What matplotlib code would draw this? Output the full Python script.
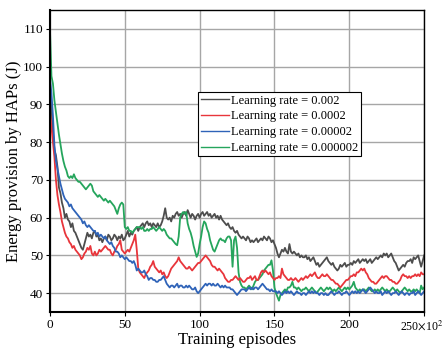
import numpy as np
import matplotlib
matplotlib.use('Agg')
import matplotlib.pyplot as plt
import matplotlib.transforms as mtransforms

plt.rcParams['font.family'] = ['Liberation Serif', 'DejaVu Serif']
plt.rcParams['mathtext.fontset'] = 'stix'

# Training episodes (x100), one reading per 100 episodes
episodes = np.arange(0, 251)

energy_lr_2e3 = [
    95.0, 88.0, 82.5, 78.0, 76.5, 73.5, 68.0, 66.5, 64.0, 62.5,
    60.0, 61.0, 59.5, 59.0, 57.5, 58.5, 56.5, 56.0, 55.0, 54.0,
    53.0, 52.0, 51.5, 53.0, 54.5, 56.0, 55.0, 55.5, 54.5, 56.0,
    56.5, 55.0, 55.5, 54.0, 54.5, 53.5, 54.5, 55.0, 54.0, 55.5,
    55.0, 54.0, 54.5, 55.5, 55.0, 54.0, 55.0, 54.5, 55.5, 54.0,
    54.5, 55.5, 56.5, 55.0, 56.0, 55.5, 56.5, 57.0, 57.5, 56.5,
    57.5, 58.0, 58.5, 57.5, 58.5, 59.0, 58.0, 58.5, 57.5, 58.5,
    58.0, 57.5, 58.5, 57.5, 58.0, 59.0, 60.5, 62.5, 60.0, 59.5,
    60.0, 59.0, 60.5, 60.0, 61.0, 61.5, 60.5, 61.0, 60.0, 61.0,
    61.5, 60.5, 62.0, 61.0, 60.0, 61.0, 60.5, 59.5, 60.5, 61.0,
    60.0, 61.0, 61.5, 60.5, 61.0, 61.5, 60.5, 61.0, 60.0, 60.5,
    61.0, 60.0, 60.5, 59.5, 60.5, 59.5, 59.0, 58.5, 58.0, 58.5,
    57.5, 57.0, 57.5, 56.5, 56.0, 56.5, 55.5, 55.0, 54.5, 55.0,
    54.5, 54.0, 55.0, 54.5, 53.5, 54.0, 53.5, 54.0, 54.5, 53.5,
    54.0, 54.5, 54.0, 55.0, 54.5, 54.0, 55.0, 54.5, 53.5, 54.0,
    53.0, 52.0, 50.5, 49.5, 50.5, 51.5, 51.0, 52.0, 51.0, 50.5,
    53.0, 51.0, 50.5, 51.0, 50.5, 50.0, 50.5, 49.5, 50.0, 49.5,
    49.5, 50.0, 49.0, 49.5, 48.5, 49.0, 49.5, 48.5, 47.5, 48.0,
    47.0, 47.5, 48.0, 48.5, 49.0, 49.5, 48.5, 48.0, 47.5, 48.0,
    47.0, 46.5, 46.0, 46.5, 47.5, 47.0, 47.5, 48.0, 47.0, 47.5,
    47.5, 48.0, 47.5, 48.5, 48.0, 48.5, 49.0, 48.0, 48.5, 49.0,
    48.5, 49.0, 48.0, 48.5, 49.0, 48.0, 48.5, 49.0, 49.5, 49.0,
    49.5, 50.0, 49.5, 50.5, 50.0, 50.5, 49.5, 50.0, 50.5, 49.5,
    48.5, 48.0, 47.0, 46.0, 46.5, 47.0, 47.5, 47.0, 48.0, 48.5,
    48.5, 49.0, 48.0, 49.5, 49.0, 49.5, 50.0, 48.5, 47.0, 48.5,
    50.0,
]

energy_lr_2e4 = [
    88.0, 84.0, 80.0, 76.0, 70.0, 66.0, 63.5, 61.5, 59.0, 57.5,
    56.0, 55.0, 54.5, 53.5, 53.0, 52.0, 52.5, 51.5, 51.0, 50.5,
    50.0, 49.0, 49.5, 50.5, 51.0, 52.0, 51.5, 52.5, 50.5, 50.0,
    51.0, 50.0, 50.5, 51.5, 51.0, 51.5, 52.0, 52.5, 52.0, 51.5,
    51.5, 50.5, 50.0, 51.0, 51.5, 52.5, 53.0, 54.0, 51.5, 51.0,
    50.5, 51.0, 51.5, 51.0, 52.0, 53.0, 54.0, 55.5, 51.5, 46.5,
    45.5, 45.0, 44.5, 44.0, 45.0, 45.5, 46.0, 47.0, 47.5, 48.5,
    47.0, 46.5, 46.0, 45.5, 46.0, 45.0, 45.5, 44.5, 44.0, 44.5,
    45.5, 46.5, 47.0, 47.5, 48.0, 48.5, 49.5, 48.5, 48.0, 47.5,
    47.0, 46.5, 46.5, 47.0, 46.5, 46.0, 46.5, 47.0, 47.5, 48.0,
    48.0, 48.5, 49.0, 49.5, 50.0, 49.5, 49.0, 48.5, 47.5, 47.0,
    47.0, 46.5, 46.0, 46.5, 46.0, 45.5, 45.0, 44.0, 43.5, 43.0,
    43.0, 43.5, 43.5, 44.0, 44.5, 44.0, 43.5, 44.0, 43.5, 43.0,
    43.0, 43.5, 44.0, 44.0, 44.5, 43.5, 44.0, 44.5, 43.5, 43.5,
    44.5, 45.5, 46.0, 45.5, 46.0, 45.5, 45.0, 45.5, 44.5, 44.0,
    43.5, 44.0, 44.0, 44.5, 44.0, 46.5, 45.0, 44.5, 44.0, 43.5,
    43.5, 44.0, 43.5, 43.5, 44.0, 43.5, 43.0, 43.5, 44.0, 43.5,
    44.0, 44.5, 44.0, 44.5, 45.0, 44.5, 45.0, 45.5, 44.5, 44.0,
    44.0, 44.5, 45.0, 44.5, 44.5, 45.0, 44.5, 44.0, 43.5, 43.5,
    43.0, 42.5, 42.5, 42.0, 41.5, 42.0, 42.5, 43.0, 43.5, 43.5,
    44.0, 44.5, 44.5, 45.0, 44.5, 45.5, 45.5, 46.0, 46.5, 46.0,
    46.5, 45.5, 45.0, 44.0, 43.5, 43.0, 43.0, 42.5, 42.5, 43.0,
    43.5, 44.0, 44.5, 44.0, 44.5, 44.5, 44.0, 43.5, 43.5, 43.0,
    43.0, 42.5, 42.5, 43.0, 43.5, 44.5, 45.0, 44.5, 44.5, 44.0,
    44.5, 44.0, 44.5, 44.5, 45.0, 44.5, 45.0, 44.5, 45.5, 45.0,
    45.0,
]

energy_lr_2e5 = [
    97.0, 93.0, 87.0, 79.0, 75.0, 73.0, 71.0, 69.0, 67.5, 66.0,
    65.0, 64.5, 64.0, 63.0, 63.5, 62.5, 62.0, 61.5, 61.0, 60.5,
    60.0, 59.5, 58.5, 59.0, 58.0, 57.5, 58.0, 57.5, 57.0, 56.5,
    56.5, 55.5, 56.0, 55.0, 55.5, 55.0, 54.5, 55.0, 54.0, 53.5,
    53.0, 53.5, 52.5, 52.0, 51.0, 51.0, 50.5, 49.5, 50.0, 49.5,
    49.0, 49.5, 49.0, 48.5, 48.5, 48.0, 48.5, 47.5, 46.0, 46.5,
    46.0, 45.5, 45.5, 46.0, 45.0, 44.5, 43.5, 44.0, 44.0, 43.5,
    43.5, 43.0, 43.0, 43.5, 43.5, 44.0, 44.5, 43.5, 42.5, 42.0,
    41.5, 42.0, 42.0, 41.5, 42.0, 42.5, 41.5, 42.0, 42.0, 41.5,
    41.5, 42.0, 41.5, 42.0, 41.5, 41.0, 41.0, 41.5, 40.5, 40.0,
    40.5, 41.0, 41.5, 42.0, 42.5, 42.0, 42.5, 42.5, 42.0, 42.5,
    42.0, 42.0, 42.5, 42.0, 41.5, 42.0, 41.5, 42.0, 41.5, 41.5,
    41.5, 41.0, 41.0, 40.5, 40.0, 39.5, 40.0, 40.5, 41.0, 41.0,
    41.0, 40.5, 41.0, 41.5, 41.0, 41.5, 41.0, 41.5, 41.5, 41.0,
    41.5, 42.0, 42.5, 42.0, 41.5, 41.0, 41.0, 40.5, 41.0, 40.5,
    40.5, 40.5, 40.0, 40.5, 40.0, 39.5, 40.0, 40.5, 40.0, 40.5,
    40.0, 40.5, 40.0, 39.5, 40.0, 40.5, 40.0, 40.0, 39.5, 40.0,
    40.0, 39.5, 40.0, 40.5, 40.0, 40.5, 40.0, 40.5, 40.0, 40.0,
    39.5, 40.0, 40.0, 39.5, 40.0, 39.5, 39.5, 40.0, 40.5, 40.0,
    39.5, 40.0, 40.0, 40.5, 40.0, 39.5, 40.0, 40.0, 40.5, 40.0,
    39.5, 40.0, 40.5, 40.0, 40.5, 40.0, 40.5, 40.0, 40.5, 41.0,
    40.5, 40.0, 40.5, 41.0, 41.5, 41.0, 40.5, 40.0, 40.5, 40.0,
    40.0, 40.5, 39.5, 40.0, 40.5, 40.0, 40.5, 40.0, 39.5, 40.0,
    40.0, 40.5, 40.0, 39.5, 40.0, 40.5, 40.0, 39.5, 40.0, 40.0,
    39.5, 40.0, 40.0, 40.5, 39.5, 40.0, 40.5, 40.0, 39.5, 40.0,
    40.5,
]

energy_lr_2e6 = [
    110.0, 97.5, 95.5, 91.0, 88.0, 85.0, 82.0, 79.5, 77.0, 75.0,
    73.5, 72.5, 71.0, 70.5, 71.0, 70.5, 71.5, 70.5, 70.0, 69.5,
    69.5, 69.0, 68.5, 68.0, 67.5, 68.0, 68.5, 69.0, 68.5, 67.0,
    66.5, 66.0, 65.5, 66.0, 65.5, 65.0, 64.5, 65.0, 64.5, 64.0,
    64.5, 64.0, 63.5, 63.0, 62.0, 61.0, 62.5, 63.5, 64.0, 63.5,
    57.5, 57.0, 57.5, 56.5, 56.5, 56.0, 56.5, 57.0, 57.5, 57.5,
    57.5, 57.0, 57.5, 56.5, 56.5, 57.0, 56.5, 57.0, 57.0, 57.5,
    57.0, 56.5, 57.0, 57.5, 57.0, 56.5, 57.0, 56.5, 55.5, 55.0,
    54.5, 54.5, 54.0, 53.5, 53.0, 52.7, 55.0, 60.0, 61.0, 61.5,
    61.0, 61.5, 58.5, 57.0, 56.0, 54.5, 52.5, 51.0, 49.6, 50.5,
    53.0, 55.0, 57.5, 59.0, 58.5, 57.0, 56.0, 54.0, 52.7, 51.5,
    51.0, 52.0, 53.0, 54.0, 54.5, 54.0, 54.0, 53.5, 54.5, 55.0,
    55.0, 54.0, 47.0, 54.0, 55.0, 52.0, 45.5, 43.0, 42.0, 41.5,
    41.5, 41.0, 41.5, 42.0, 41.5, 41.0, 42.0, 43.0, 43.5, 43.5,
    44.0, 44.5, 45.0, 46.0, 46.5, 47.0, 47.5, 47.5, 48.7, 46.0,
    41.5, 40.0, 39.0, 38.0, 39.5, 40.0, 40.5, 41.0, 40.5, 41.5,
    41.5, 42.0, 43.0, 41.5, 41.5, 41.0, 41.5, 41.0, 40.5, 41.0,
    41.0, 41.5, 41.0, 40.5, 41.0, 41.5, 41.0, 40.5, 40.0, 40.5,
    41.0, 41.5, 41.0, 40.5, 41.0, 41.5, 41.0, 41.5, 41.0, 40.5,
    41.0, 40.5, 41.0, 41.5, 41.0, 40.5, 41.0, 41.5, 41.0, 41.5,
    41.0, 41.5, 42.0, 43.0, 41.5, 41.0, 40.5, 41.0, 40.5, 41.0,
    41.0, 40.5, 41.0, 41.5, 41.0, 40.5, 40.5, 41.0, 40.5, 41.0,
    40.5, 41.0, 41.5, 41.0, 40.5, 41.0, 40.5, 40.5, 41.0, 41.5,
    41.0, 40.5, 41.0, 40.5, 40.0, 40.5, 41.0, 41.5, 41.0, 40.5,
    41.0, 40.5, 40.5, 41.0, 40.5, 41.0, 40.5, 40.0, 42.0, 41.0,
    41.5,
]

series = [
    ('Learning rate = 0.002', energy_lr_2e3, '#4d4d4d'),
    ('Learning rate = 0.0002', energy_lr_2e4, '#e8353b'),
    ('Learning rate = 0.00002', energy_lr_2e5, '#2f63b8'),
    ('Learning rate = 0.000002', energy_lr_2e6, '#25a55c'),
]

x_ticks = [0, 50, 100, 150, 200, 250]
x_tick_labels = ['0', '50', '100', '150', '200', r'250$\times$10$^2$']
y_ticks = [40, 50, 60, 70, 80, 90, 100, 110]

fig = plt.figure(figsize=(4.46, 3.49), dpi=100)
ax = fig.add_axes([0.112, 0.106, 0.839, 0.865])

# draw the fastest-converging curve last so it sits on top
for label, vals, color in [series[0], series[3], series[1], series[2]]:
    ax.plot(episodes, vals, color=color, linewidth=1.3, label=label)

ax.set_xlim(0, 250)
ax.set_ylim(35, 115)
ax.set_xticks(x_ticks)
ax.set_xticklabels(x_tick_labels)
ax.set_yticks(y_ticks)
ax.tick_params(axis='both', labelsize=9.5, length=3, width=0.8,
               direction='out', pad=2)
# the scale label on the last tick is squeezed against the figure edge
last = ax.get_xticklabels()[-1]
last.set_fontsize(8.5)
last.set_horizontalalignment('right')
last.set_transform(last.get_transform() +
                   mtransforms.ScaledTranslation(0.19, 0, fig.dpi_scale_trans))
ax.grid(True, color='#a6a6a6', linewidth=1.0)
ax.set_axisbelow(True)

for side in ['left', 'bottom']:
    ax.spines[side].set_linewidth(1.5)
for side in ['top', 'right']:
    ax.spines[side].set_linewidth(1.0)

ax.set_xlabel('Training episodes', fontsize=12, labelpad=-1)
ax.set_ylabel('Energy provision by HAPs (J)', fontsize=12, labelpad=1)

handles, labels = ax.get_legend_handles_labels()
order = [labels.index(s[0]) for s in series]
leg = ax.legend([handles[i] for i in order], [labels[i] for i in order],
                loc='upper left', bbox_to_anchor=(0.396, 0.728),
                fontsize=9, frameon=True, fancybox=False, edgecolor='black',
                framealpha=1.0, handlelength=2.3, handletextpad=0.15,
                labelspacing=0.3, borderpad=0.2, borderaxespad=0)
leg.get_frame().set_linewidth(0.8)
for line in leg.get_lines():
    line.set_linewidth(1.0)

fig.savefig('out.png', dpi=100, facecolor='white')
